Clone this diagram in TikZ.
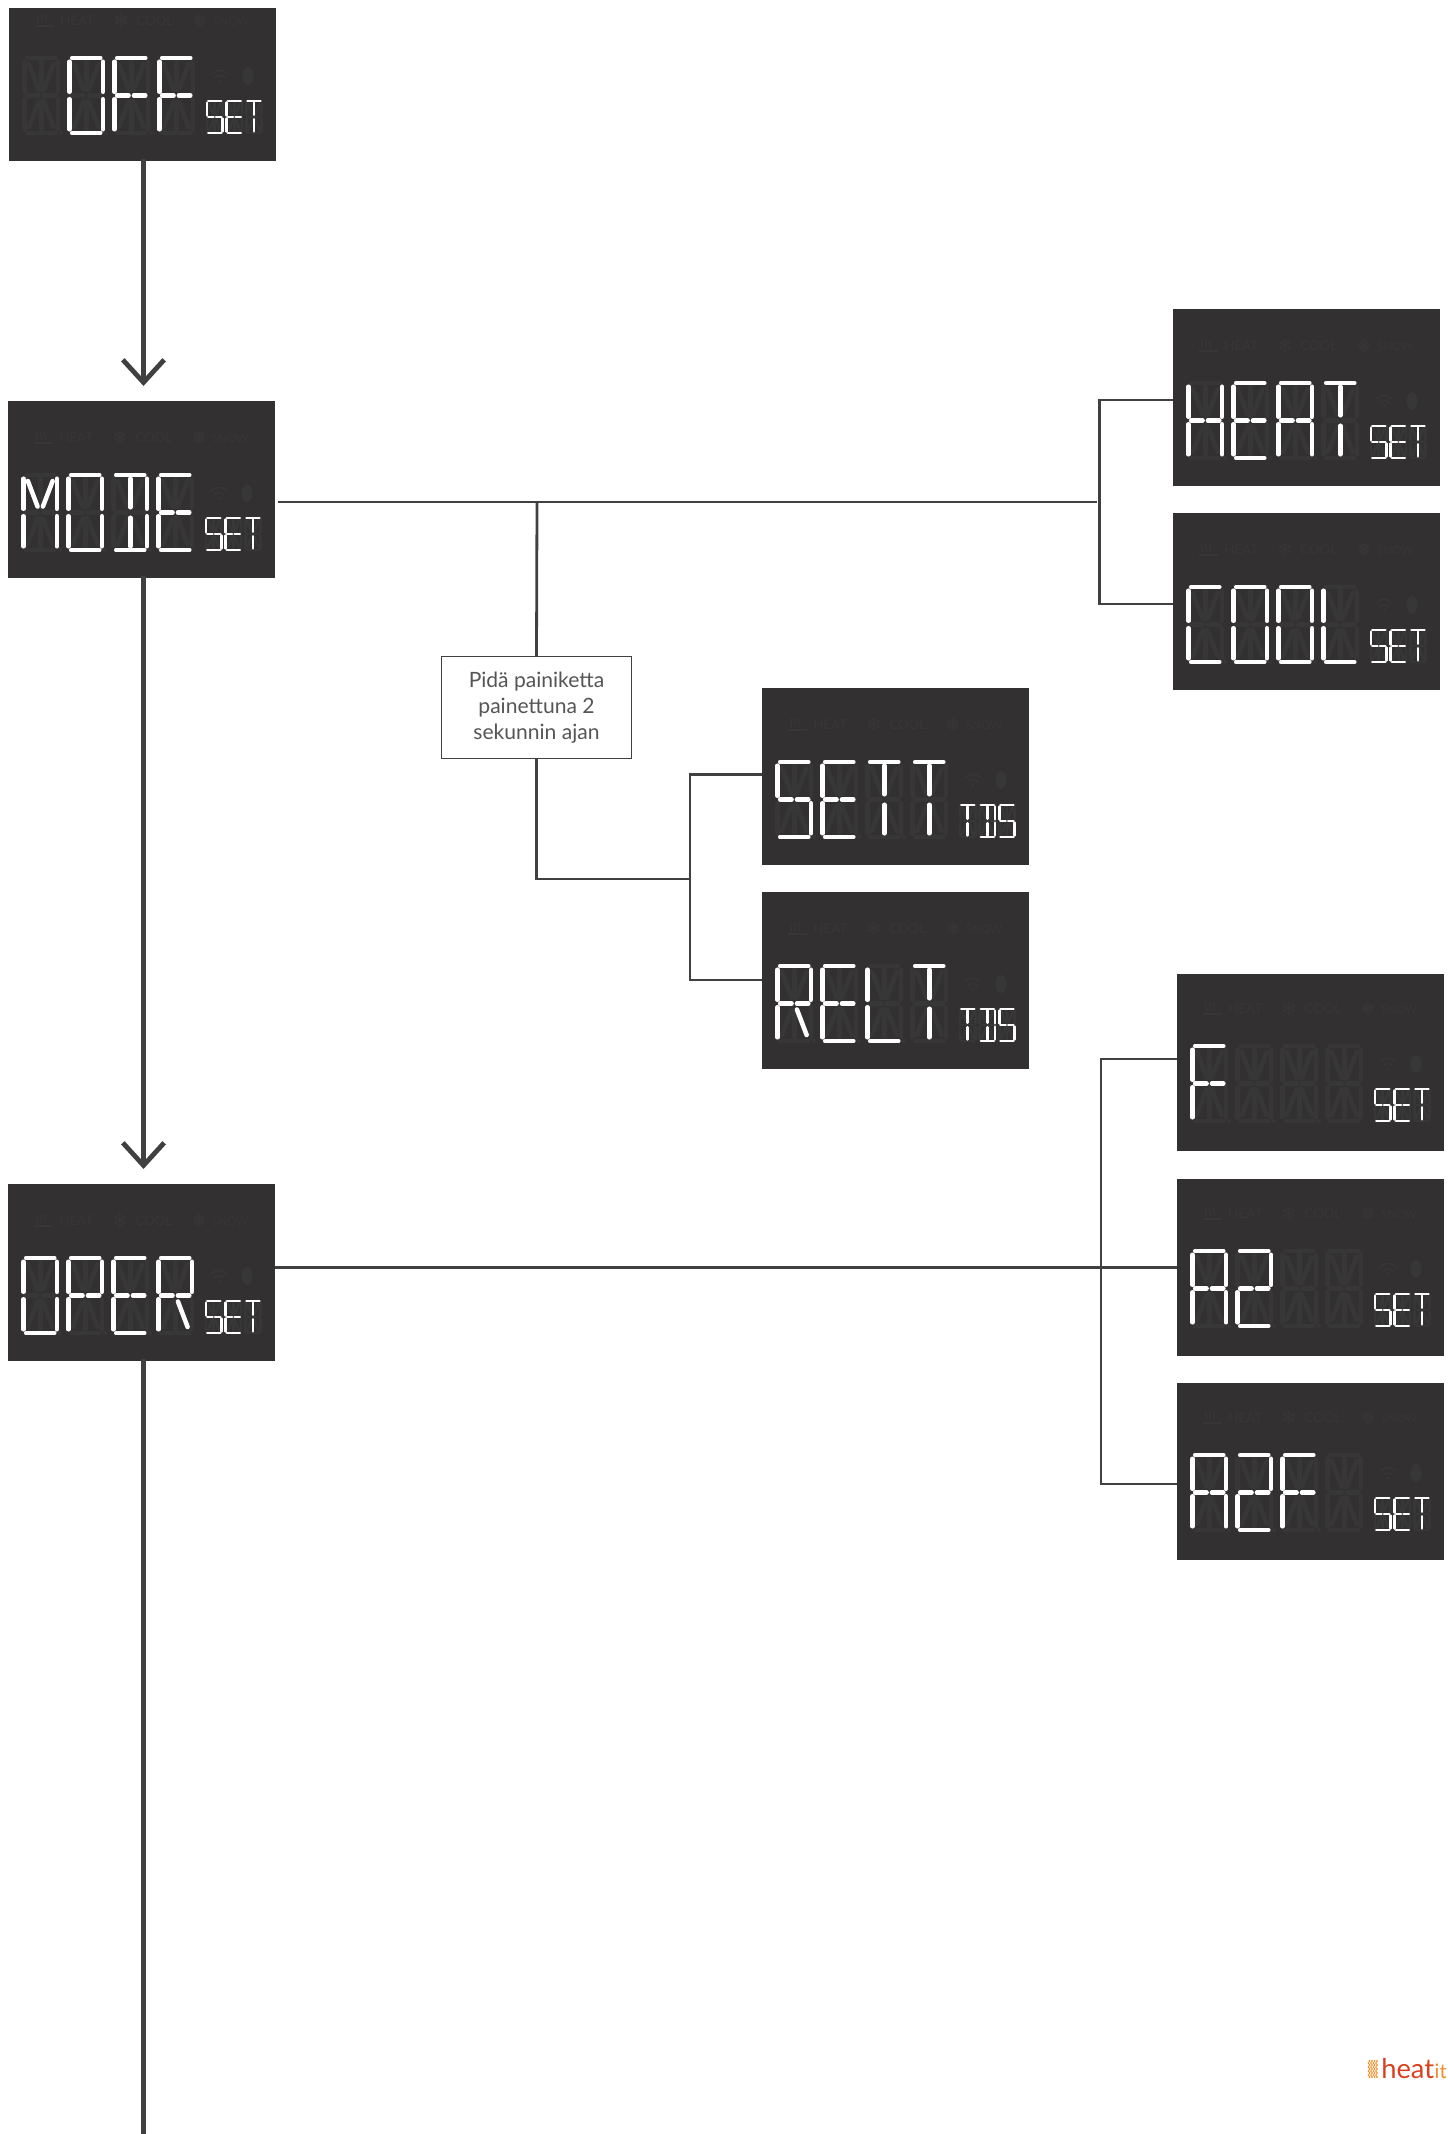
\documentclass[tikz,border=0pt]{standalone}
\usepackage{fontspec}
\setmainfont{Lato}
\newfontfamily\symfont{DejaVu Sans}
\usetikzlibrary{arrows.meta,decorations.pathmorphing}
\definecolor{panelc}{HTML}{323031}
\definecolor{dimc}{HTML}{383738}
\definecolor{linec}{HTML}{404040}
\definecolor{labelc}{HTML}{555555}
\definecolor{logored}{HTML}{D8401F}
\definecolor{logoorange}{HTML}{F28C28}
\tikzset{
  panel/.style={fill=panelc,draw=none,inner sep=0pt,outer sep=0pt,anchor=north west,minimum width=200.25pt},
  dimseg/.style={draw=dimc,line cap=round},
  litseg/.style={draw=white,line cap=round},
  icontext/.style={text=dimc,inner sep=0pt,font=\fontsize{10}{10}\selectfont},
  iconsym/.style={text=dimc,inner sep=0pt,font=\symfont\fontsize{14}{14}\selectfont},
  mainline/.style={draw=linec,line width=3.6pt,shorten <=-1.5pt},
  mainarrow/.style={mainline,-{Straight Barb[length=17pt,width=31pt]}},
  thinline/.style={draw=linec,line width=2.1pt},
  notebox/.style={draw=linec,line width=.6pt,fill=white,outer sep=0pt,minimum width=142pt,minimum height=76.5pt,inner sep=0pt,align=center,text=labelc,font=\fontsize{15.8}{19.4}\selectfont},
}
% segments in a unit cell
\def\sga{(.08,0)--(.92,0)}
\def\sgb{(1,.05)--(1,.45)}
\def\sgc{(1,.55)--(1,.95)}
\def\sgd{(.08,1)--(.92,1)}
\def\sge{(0,.55)--(0,.95)}
\def\sgf{(0,.05)--(0,.45)}
\def\sgp{(.08,.5)--(.42,.5)}
\def\sgq{(.58,.5)--(.92,.5)}
\def\sgh{(.13,.08)--(.42,.42)}
\def\sgi{(.5,.05)--(.5,.43)}
\def\sgj{(.87,.08)--(.58,.42)}
\def\sgk{(.42,.58)--(.13,.92)}
\def\sgl{(.5,.57)--(.5,.95)}
\def\sgm{(.58,.58)--(.87,.92)}
\def\glX{}
\def\glO{a,b,c,d,e,f}
\def\glF{a,f,e,p,q}
\def\glM{f,e,b,c,h,j}
\def\glD{a,b,c,d,i,l}
\def\glE{a,f,e,d,p,q}
\def\glP{a,b,f,e,p,q}
\def\glR{a,b,f,e,p,q,m}
\def\glH{f,e,b,c,p,q}
\def\glA{a,b,c,e,f,p,q}
\def\glT{a,i,l}
\def\glC{a,f,e,d}
\def\glL{f,e,d}
\def\glS{a,f,p,q,c,d}
\def\glTwo{a,b,p,q,e,d}
% #1 x, #2 y, #3 w, #4 h, #5 glyph, #6 line width
\newcommand\lcdglyph[6]{%
  \begin{scope}[shift={(#1,#2)},x=#3*.75pt,y=#4*-.75pt]
    \foreach \s in {a,b,c,d,e,f,p,q,h,i,j,k,l,m}{%
      \expandafter\let\expandafter\curseg\csname sg\s\endcsname
      \draw[dimseg,line width=#6] \curseg;}
    \expandafter\let\expandafter\curlist\csname gl#5\endcsname
    \foreach \s in \curlist{%
      \expandafter\let\expandafter\curseg\csname sg\s\endcsname
      \draw[litseg,line width=#6] \curseg;}
  \end{scope}}
% #1 name, #2 x, #3 top, #4 height, #5 dy, #6 big glyphs, #7 small glyphs
\newcommand\lcdpanel[7]{%
  \node[panel,minimum height=#4*.75pt] (#1) at (#2,#3) {};
  \begin{scope}[shift={(#2,#3+#5)}]
    % icon row
    \foreach \q in {0,4,8}{\draw[dimc,line width=.9pt] (29+\q,30) .. controls (27+\q,33) and (31+\q,35) .. (29+\q,39);}
    \draw[dimc,line width=.9pt] (26,42) -- (45,42);
    \node[icontext,anchor=west] (#1-heat) at (51,37) {HEAT};
    \node[iconsym] (#1-flake) at (112,37) {❄};
    \node[icontext,anchor=west] (#1-cool) at (127,37) {COOL};
    \node[iconsym] (#1-sflake) at (191,37) {❅};
    \node[icontext,anchor=west,font=\fontsize{8.6}{10}\selectfont] (#1-snow) at (204,37) {SNOW};
    % wifi and bluetooth
    \draw[dimc,line width=.9pt] (203,90) .. controls (208,85) and (214,85) .. (219,90);
    \draw[dimc,line width=.9pt] (206,94) .. controls (209,91) and (213,91) .. (216,94);
    \fill[dimc] (211,97) circle[radius=1.5];
    \fill[dimc] (239,92) ellipse[x radius=5.5,y radius=9];
    % big digits
    \foreach \g [count=\n from 0] in {#6}{\lcdglyph{15.5+45*\n}{74}{33.5}{75}{\g}{3.4pt}}
    \foreach \n in {1,2,3}{\fill[dimc] ({52+45*(\n-1)},149) circle[radius=2];}
    % small digits
    \foreach \g [count=\n from 0] in {#7}{\lcdglyph{198+19.6*\n}{117}{15.5}{32}{\g}{2pt}}
  \end{scope}}
\begin{document}
\begin{tikzpicture}[x=.75pt,y=-.75pt]
\useasboundingbox (0,0) rectangle (1448,2134);
\lcdpanel{off}{9}{8}{153}{-24}{X,O,F,F}{S,E,T}
\lcdpanel{mode}{8}{401}{177}{0}{M,O,D,E}{S,E,T}
\lcdpanel{oper}{8}{1184}{177}{0}{O,P,E,R}{S,E,T}
\lcdpanel{heat}{1173}{309}{177}{0}{H,E,A,T}{S,E,T}
\lcdpanel{cool}{1173}{513}{177}{0}{C,O,O,L}{S,E,T}
\lcdpanel{sett}{762}{688}{177}{0}{S,E,T,T}{T,D,S}
\lcdpanel{relt}{762}{892}{177}{0}{R,E,L,T}{T,D,S}
\lcdpanel{f}{1177}{974}{177}{-2}{F,X,X,X}{S,E,T}
\lcdpanel{atwo}{1177}{1179}{177}{-2}{A,Two,X,X}{S,E,T}
\lcdpanel{atwof}{1177}{1383}{177}{-2}{A,Two,F,X}{S,E,T}
% main column
\coordinate (tipa) at (143.5,386);
\coordinate (tipb) at (143.5,1169);
\coordinate (bottomend) at (143.5,2134);
\draw[mainarrow] (off.south -| tipa) -- (tipa);
\draw[mainarrow] (mode.south -| tipa) -- (tipb);
\draw[mainline] (oper.south -| tipa) -- (bottomend);
% mode branch
\coordinate (modestart) at (278,502);
\coordinate (modeend) at (1096.5,502);
\coordinate (modejoin) at (537,502);
\draw[thinline] (modestart) -- (modeend);
\coordinate (hj) at (1099.5,400);
\coordinate (cj) at (1099.5,604);
\draw[thinline] (heat.west |- hj) -- (hj) -- (cj) -- (cool.west |- cj);
\node[notebox] (note) at (536.5,707) {\raisebox{-4.5pt}[0pt][0pt]{\begin{tabular}{@{}c@{}}Pidä painiketta\\painettuna 2\\sekunnin ajan\end{tabular}}};
\draw[thinline] (modejoin) -- (note.north);
\coordinate (nj) at (690,879);
\draw[thinline] (note.south) |- (nj);
\coordinate (sj) at (690,774.5);
\coordinate (rj) at (690,980);
\draw[thinline] (sett.west |- sj) -- (sj) -- (rj) -- (relt.west |- rj);
% oper branch
\coordinate (oj) at (1101,1267.5);
\draw[thinline] (oper.east |- oj) -- (atwo.west |- oj);
\coordinate (fj) at (1101,1059);
\coordinate (afj) at (1101,1484);
\draw[thinline] (f.west |- fj) -- (fj) -- (afj) -- (atwof.west |- afj);
% logo
\foreach \q in {1369,1371.5,1374,1376.5}{\draw[logoorange,line width=.6pt,decorate,decoration={zigzag,segment length=3pt,amplitude=.7pt}] (\q,2060) -- (\q,2078);}
\node[anchor=base west,inner sep=0pt,text=logored,font=\fontsize{20.5}{20}\selectfont] (logoheat) at (1381,2078) {heat};
\node[anchor=base west,inner sep=0pt,text=logoorange,font=\fontsize{15}{15}\selectfont] (logoit) at (logoheat.base east) {it};
\end{tikzpicture}
\end{document}
